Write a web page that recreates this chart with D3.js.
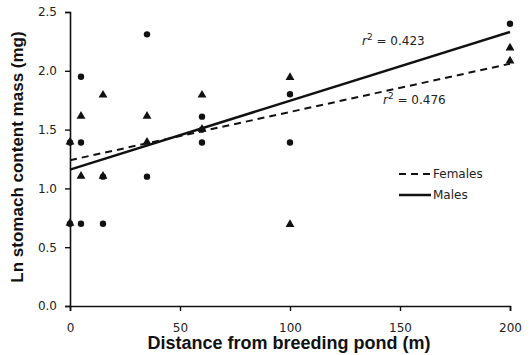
<!DOCTYPE html>
<html>
<head>
<meta charset="utf-8">
<script src="https://cdn.jsdelivr.net/npm/d3@7"></script>
<style>
  body { margin: 0; background: #fff; }
  .tick text { font-family: "DejaVu Sans", Verdana, sans-serif; font-size: 12px; fill: #222; }
  .title { font-family: "Liberation Sans", Arial, sans-serif; font-weight: bold; fill: #111; }
  .note { font-family: "DejaVu Sans", Verdana, sans-serif; font-size: 12px; fill: #222; }
</style>
</head>
<body>
<script>
var width = 531,
    height = 355;

// points: [distance, ln mass]
var males = [[0, 1.39], [0, 0.70], [5, 1.95], [5, 1.39], [5, 0.70], [15, 0.70], [15, 1.10],
             [35, 2.31], [35, 1.10], [60, 1.61], [60, 1.50], [60, 1.39],
             [100, 1.80], [100, 1.39], [200, 2.40]];
var females = [[0, 1.39], [0, 0.70], [5, 1.61], [5, 1.10], [15, 1.79], [15, 1.10],
               [35, 1.61], [35, 1.39], [60, 1.79], [60, 1.50],
               [100, 1.94], [100, 0.69], [200, 2.19], [200, 2.08]];

// fitted lines, ends at x = 0 and x = 200
var maleFit = [[0, 1.16], [200, 2.33]];
var femaleFit = [[0, 1.24], [200, 2.06]];

var xTicks = [0, 50, 100, 150, 200];
var yTicks = [0, 0.5, 1.0, 1.5, 2.0, 2.5];

var svg = d3.select('body').append('svg')
    .attr('width', width)
    .attr('height', height);

var x = d3.scaleLinear().domain([0, 200]).range([70, 510]);
var y = d3.scaleLinear().domain([0, 2.5]).range([306, 12]);

var line = d3.line()
    .x(function(d) { return x(d[0]); })
    .y(function(d) { return y(d[1]); });

/* points */
svg.selectAll('circle.m')
    .data(males)
    .enter().append('circle')
    .attr('class', 'm')
    .attr('cx', function(d) { return x(d[0]); })
    .attr('cy', function(d) { return y(d[1]); })
    .attr('r', 3.2)
    .style('fill', '#111');

var tri = d3.symbol().type(d3.symbolTriangle).size(34);
svg.selectAll('path.f')
    .data(females)
    .enter().append('path')
    .attr('class', 'f')
    .attr('d', tri)
    .attr('transform', function(d) { return 'translate(' + x(d[0]) + ',' + (y(d[1]) - 0.5) + ')'; })
    .style('fill', '#111');

/* regression lines */
svg.append('path')
    .attr('d', line(femaleFit))
    .style('fill', 'none')
    .style('stroke', '#111')
    .style('stroke-width', 2)
    .style('stroke-dasharray', '7,5');

svg.append('path')
    .attr('d', line(maleFit))
    .style('fill', 'none')
    .style('stroke', '#111')
    .style('stroke-width', 2.5);

/* axes */
svg.append('g')
    .attr('transform', 'translate(0,306)')
    .call(d3.axisBottom(x).tickValues(xTicks).tickSize(5).tickPadding(12).tickFormat(d3.format('d')));

svg.append('g')
    .attr('transform', 'translate(70,0)')
    .call(d3.axisLeft(y).tickValues(yTicks).tickSize(5).tickPadding(8).tickFormat(d3.format('.1f')));

svg.selectAll('.domain').style('stroke', '#111').style('stroke-width', 1.6);
svg.selectAll('.tick line').style('stroke', '#111').style('stroke-width', 1.4);

/* axis titles */
svg.append('text')
    .attr('class', 'title')
    .attr('x', 289)
    .attr('y', 349)
    .attr('text-anchor', 'middle')
    .style('font-size', '18px')
    .text('Distance from breeding pond (m)');

svg.append('text')
    .attr('class', 'title')
    .attr('transform', 'translate(23,157) rotate(-90)')
    .attr('text-anchor', 'middle')
    .style('font-size', '17px')
    .text('Ln stomach content mass (mg)');

/* r squared labels */
function r2(xp, yp, val) {
    var t = svg.append('text').attr('class', 'note').attr('x', xp).attr('y', yp);
    t.append('tspan').style('font-style', 'italic').text('r');
    t.append('tspan').attr('dy', -5).style('font-size', '9px').text('2');
    t.append('tspan').attr('dy', 5).text(' = ' + val);
}
r2(362, 45, '0.423');
r2(383, 104, '0.476');

/* legend */
svg.append('line')
    .attr('x1', 399).attr('x2', 431).attr('y1', 174).attr('y2', 174)
    .style('stroke', '#111').style('stroke-width', 2).style('stroke-dasharray', '7,5');
svg.append('line')
    .attr('x1', 399).attr('x2', 431).attr('y1', 195).attr('y2', 195)
    .style('stroke', '#111').style('stroke-width', 2.5);
svg.append('text').attr('class', 'note').attr('x', 433).attr('y', 178).text('Females');
svg.append('text').attr('class', 'note').attr('x', 433).attr('y', 199).text('Males');
</script>
</body>
</html>
